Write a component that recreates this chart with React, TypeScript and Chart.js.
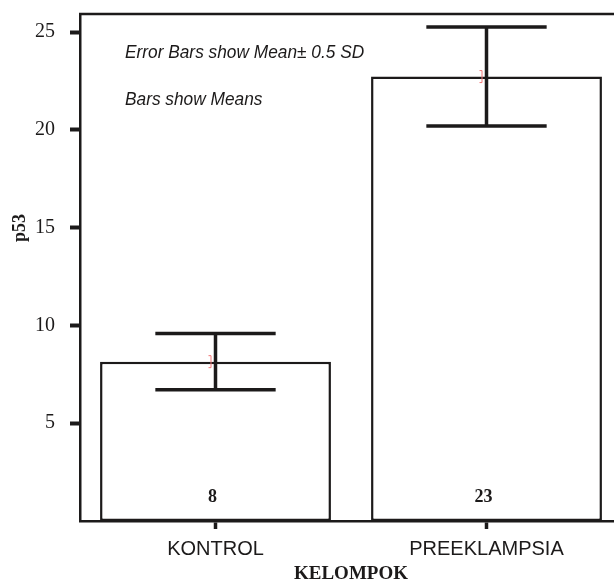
import React, { useEffect, useRef } from "react";
import { Chart, registerables } from "chart.js";

Chart.register(...registerables);

const categories = ["KONTROL", "PREEKLAMPSIA"];
const means = [8.15, 22.73];
const errorHalf = [1.44, 2.53];
const counts = ["8", "23"];
const yTicks = [5, 10, 15, 20, 25];
const yMin = 0;
const yMax = 25.93;
const notes = ["Error Bars show Mean\u00b1 0.5 SD", "Bars show Means"];
const xTitle = "KELOMPOK";
const yTitle = "p53";

const INK = "#1c1a1a";

const overlay = {
  id: "overlay",
  afterDatasetsDraw(chart: any) {
    const ctx = chart.ctx;
    const xs = chart.scales.x;
    const ys = chart.scales.y;
    const area = chart.chartArea;
    const step = xs.getPixelForValue(1) - xs.getPixelForValue(0);
    const hw = step * 0.222;
    ctx.save();
    // error bars
    ctx.strokeStyle = INK;
    ctx.lineWidth = 3.5;
    ctx.lineCap = "butt";
    means.forEach((m, i) => {
      const cx = xs.getPixelForValue(i);
      const yt = ys.getPixelForValue(m + errorHalf[i]);
      const yb = ys.getPixelForValue(m - errorHalf[i]);
      ctx.strokeStyle = INK;
      ctx.lineWidth = 3.5;
      ctx.beginPath();
      ctx.moveTo(cx, yt);
      ctx.lineTo(cx, yb);
      ctx.moveTo(cx - hw, yt);
      ctx.lineTo(cx + hw, yt);
      ctx.moveTo(cx - hw, yb);
      ctx.lineTo(cx + hw, yb);
      ctx.stroke();
      // small red bracket marker at the mean
      const my = ys.getPixelForValue(m);
      ctx.strokeStyle = "#f07878";
      ctx.lineWidth = 1;
      ctx.beginPath();
      ctx.moveTo(cx - 7, my - 6);
      ctx.lineTo(cx - 4.5, my - 6);
      ctx.lineTo(cx - 4.5, my + 6);
      ctx.lineTo(cx - 7, my + 6);
      ctx.stroke();
      // count label
      ctx.fillStyle = INK;
      ctx.font = "bold 18px 'Liberation Serif'";
      ctx.textAlign = "center";
      ctx.textBaseline = "middle";
      ctx.fillText(counts[i], cx - 3, area.bottom - 24);
    });
    // top border
    ctx.strokeStyle = INK;
    ctx.lineWidth = 2.5;
    ctx.beginPath();
    ctx.moveTo(area.left - 1, area.top);
    ctx.lineTo(area.right, area.top);
    ctx.stroke();
    // notes
    ctx.fillStyle = INK;
    ctx.textAlign = "left";
    ctx.textBaseline = "alphabetic";
    ctx.font = "italic 19px 'Liberation Sans'";
    const baselines = [58, 105];
    notes.forEach((t, i) => {
      ctx.save();
      ctx.translate(area.left + 45, baselines[i]);
      ctx.scale(0.91, 1);
      ctx.fillText(t, 0, 0);
      ctx.restore();
    });
    // y title
    ctx.save();
    ctx.translate(20, 228);
    ctx.rotate(-Math.PI / 2);
    ctx.font = "bold 18px 'Liberation Serif'";
    ctx.textAlign = "center";
    ctx.textBaseline = "middle";
    ctx.fillText(yTitle, 0, 0);
    ctx.restore();
    ctx.restore();
  },
};

export default function App() {
  const ref = useRef<HTMLCanvasElement>(null);
  useEffect(() => {
    if (!ref.current) return;
    const chart = new Chart(ref.current, {
      type: "bar",
      data: {
        labels: categories,
        datasets: [
          {
            data: means,
            backgroundColor: "#ffffff",
            borderColor: INK,
            borderWidth: 2.5,
            borderSkipped: false,
            barPercentage: 0.852,
            categoryPercentage: 1,
          },
        ],
      },
      options: {
        responsive: false,
        animation: false,
        layout: { padding: { top: 14, right: 18, left: 0, bottom: 0 } },
        plugins: { legend: { display: false }, tooltip: { enabled: false } },
        scales: {
          x: {
            grid: {
              offset: false,
              drawOnChartArea: false,
              drawTicks: true,
              tickLength: 8,
              tickWidth: 3.5,
              tickColor: INK,
            },
            border: { display: true, color: INK, width: 2.5 },
            ticks: {
              color: INK,
              font: { family: "'Liberation Sans'", size: 20 },
              padding: 8,
            },
            title: {
              display: true,
              text: xTitle,
              color: INK,
              font: { family: "'Liberation Serif'", size: 19, weight: "bold" },
              padding: { top: 0, bottom: 0 },
            },
            afterFit: (s: any) => {
              s.height = 64;
              s.paddingLeft = 0;
              s.paddingRight = 0;
            },
          },
          y: {
            min: yMin,
            max: yMax,
            afterBuildTicks: (s: any) => {
              s.ticks = yTicks.map((v) => ({ value: v }));
            },
            grid: {
              drawOnChartArea: false,
              drawTicks: true,
              tickLength: 10,
              tickWidth: 4,
              tickColor: INK,
            },
            border: { display: true, color: INK, width: 2.5 },
            ticks: {
              color: INK,
              font: { family: "'Liberation Serif'", size: 20 },
              padding: 15,
            },
            afterFit: (s: any) => {
              s.width = 80;
              s.paddingTop = 0;
              s.paddingBottom = 0;
            },
          },
        },
      },
      plugins: [overlay],
    });
    return () => chart.destroy();
  }, []);
  return (
    <div
      style={{
        position: "absolute",
        left: 0,
        top: 0,
        width: 614,
        height: 585,
        overflow: "hidden",
        background: "#ffffff",
      }}
    >
      <canvas ref={ref} width={640} height={585} style={{ display: "block" }} />
    </div>
  );
}
